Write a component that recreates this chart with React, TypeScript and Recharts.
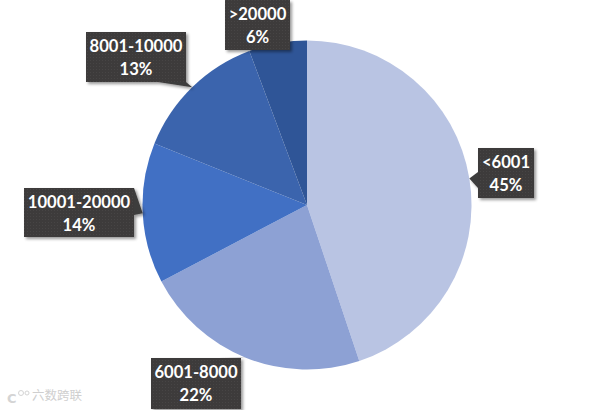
import React from "react";
import { PieChart, Pie, Cell } from "recharts";

const categories = ["<6001", "6001-8000", "10001-20000", "8001-10000", ">20000"];
const shares = [44.85, 22.45, 13.8, 13.2, 5.7];
const colors = ["#b9c4e3", "#8da1d4", "#4170c4", "#3b64ad", "#2f5597"];

const data = categories.map((name, i) => ({ name, value: shares[i] }));

// Callout box position relative to the pie centre, plus the stretch of box edge the pointer grows from
const callouts = [
  { dx: 171, dy: -57, w: 56, h: 50, base: [[0, 24], [0, 40]] },
  { dx: -156, dy: 153, w: 90, h: 51, base: [[68, 0], [90, 0]] },
  { dx: -283, dy: -17, w: 110, h: 49, base: [[110, 0], [110, 27]] },
  { dx: -221, dy: -173, w: 100, h: 50, base: [[72, 50], [100, 50]] },
  { dx: -82, dy: -205, w: 65, h: 50, base: [[25, 50], [50, 50]] },
];

const RAD = Math.PI / 180;

function renderCallout(props: any) {
  const { cx, cy, midAngle, outerRadius, index, name, percent } = props;
  const c = callouts[index];
  const x = cx + c.dx;
  const y = cy + c.dy;
  const tipX = cx + outerRadius * Math.cos(midAngle * RAD);
  const tipY = cy - outerRadius * Math.sin(midAngle * RAD);
  const points = [
    `${x + c.base[0][0]},${y + c.base[0][1]}`,
    `${tipX},${tipY}`,
    `${x + c.base[1][0]},${y + c.base[1][1]}`,
  ].join(" ");
  const textStyle = {
    fontFamily: "Lato, 'Open Sans', sans-serif",
    fontSize: 16.6,
    fontWeight: 700,
    fill: "#ffffff",
    textAnchor: "middle" as const,
  };
  return (
    <g key={name}>
      <g filter="url(#calloutShadow)">
        {index !== 4 && <polygon points={points} fill="#3d3c3c" />}
        <rect x={x} y={y} width={c.w} height={c.h} fill="url(#calloutDots)" />
      </g>
      <text x={x + c.w / 2} y={y + 20} style={textStyle}>{name}</text>
      <text x={x + c.w / 2} y={y + 43} style={textStyle}>{`${Math.round(percent * 100)}%`}</text>
    </g>
  );
}

export default function App() {
  return (
    <div style={{ position: "absolute", left: 0, top: 0, width: 615, height: 410, background: "#fff", overflow: "hidden" }}>
      <PieChart width={615} height={410} margin={{ top: 0, right: 0, bottom: 0, left: 0 }}>
        <defs>
          <pattern id="calloutDots" width="3" height="3" patternUnits="userSpaceOnUse">
            <rect width="3" height="3" fill="#3c3b3b" />
            <rect width="1" height="1" fill="#464545" />
          </pattern>
          <filter id="calloutShadow" x="-20%" y="-20%" width="140%" height="140%">
            <feDropShadow dx="2" dy="2" stdDeviation="1.5" floodColor="#000" floodOpacity="0.4" />
          </filter>
        </defs>
        <Pie
          data={data}
          dataKey="value"
          nameKey="name"
          cx={307}
          cy={205}
          innerRadius={0}
          outerRadius={164.5}
          startAngle={90}
          endAngle={-270}
          stroke="none"
          label={renderCallout}
          labelLine={false}
          isAnimationActive={false}
        >
          {data.map((d, i) => (
            <Cell key={d.name} fill={colors[i]} />
          ))}
        </Pie>
        <text x={7} y={403} style={{ fontFamily: "'DejaVu Sans', sans-serif", fontSize: 13, fontWeight: 700, fill: "#d4d4d4" }}>
          C
        </text>
        <circle cx={21} cy={393} r={2.5} fill="none" stroke="#d4d4d4" />
        <circle cx={27} cy={393} r={2} fill="none" stroke="#d4d4d4" />
        <text x={32} y={400} style={{ fontFamily: "'Noto Sans CJK SC', sans-serif", fontSize: 12.5, fill: "#cfcfcf" }}>
          六数跨联
        </text>
      </PieChart>
    </div>
  );
}
